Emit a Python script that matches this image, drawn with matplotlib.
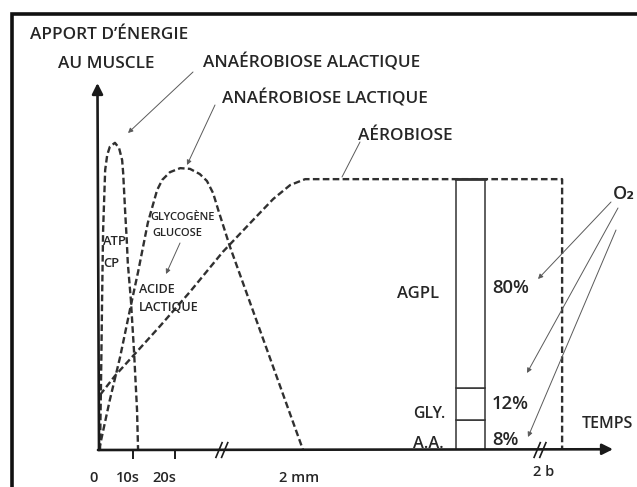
import matplotlib
matplotlib.use('Agg')
import matplotlib.pyplot as plt
from matplotlib.patches import Rectangle

W, H = 637, 487
INK = '#262626'
LEAD = '#5a5a5a'

# time axis: 0..100 (schematic, with breaks), energy axis: 0..100
alactic_x = [0.2, 0.4, 0.6, 0.8, 1.2, 1.6, 2.1, 3.1, 3.9, 4.5, 4.7, 5.1, 5.4, 5.6, 6.2, 6.8, 7.4, 7.6]
alactic_y = [0, 19.1, 40.9, 59.9, 76.3, 80.4, 82.6, 83.7, 82.3, 79.0, 75.5, 64.6, 57.2, 51.0, 40.9, 27.2, 10.9, 0]

lactic_x = [0, 2.1, 4.1, 6.0, 7.6, 9.5, 11.3, 12.3, 13.8, 15.8, 17.7, 19.6, 21.0, 22.2, 23.2, 25.5, 39.7]
lactic_y = [0, 13.6, 25.3, 38.1, 48.5, 61.9, 70.8, 73.6, 75.7, 76.8, 76.6, 75.2, 73.3, 70.0, 65.4, 55.3, 0]

aerobic_x = [0.2, 3.1, 6.6, 11.9, 17.7, 24.1, 30.0, 33.9, 37.2, 40.1, 90.1, 90.1]
aerobic_y = [15.0, 20.2, 25.6, 33.8, 43.1, 54.0, 62.7, 68.4, 72.2, 73.8, 73.8, 0]

# substrate column at 2 h
bar_x = 72.3
bar_width = 5.6
bar_names = ['A.A.', 'GLY.', 'AGPL']
bar_shares = ['8%', '12%', '80%']
bar_bottoms = [0, 8.2, 16.9]
bar_heights = [8.2, 8.7, 56.9]

tick_pos = [6.6, 14.8]
time_labels = ['0', '10s', '20s', '2 mm', '2 b']
time_label_pos = [-1.0, 5.6, 12.8, 38.9, 86.6]
break_pos = [23.9, 85.8]


def P(x, y):
    """pixel position in the picture -> figure fraction"""
    return x / W, 1 - y / H


plt.rcParams['font.family'] = ['Open Sans', 'DejaVu Sans']
plt.rcParams['font.weight'] = 'semibold'

fig = plt.figure(figsize=(W / 100, H / 100), dpi=100)
fig.patch.set_facecolor('white')
ax = fig.add_axes([99 / W, 37 / H, 514 / W, 367 / H])
ax.set_xlim(0, 100)
ax.set_ylim(0, 100)
ax.axis('off')

# frame
fig.add_artist(Rectangle(P(12, 500), 640 / W, 486 / H, transform=fig.transFigure,
                         fill=False, edgecolor='#111111', linewidth=2.6))

dash = dict(color='#303030', linewidth=1.7, dashes=(2.8, 1.4), solid_capstyle='butt')
ax.plot(alactic_x, alactic_y, clip_on=False, **dash)
ax.plot(lactic_x, lactic_y, clip_on=False, **dash)
ax.plot(aerobic_x, aerobic_y, clip_on=False, **dash)

ax.bar(bar_x, bar_heights, bar_width, bottom=bar_bottoms, facecolor='white',
       edgecolor='#333333', linewidth=1.1, zorder=3)
top = bar_bottoms[-1] + bar_heights[-1]
ax.plot([bar_x - bar_width / 2, bar_x + bar_width / 2], [top, top], color='#333333',
        linewidth=2.0, zorder=4)

# axes with arrows
axis_style = dict(arrowstyle='-|>', color='#1a1a1a', lw=1.9, mutation_scale=16,
                  shrinkA=0, shrinkB=0)
ax.annotate('', xy=(-0.3, 100), xytext=(0, 0), arrowprops=axis_style, annotation_clip=False)
ax.annotate('', xy=(100, 0.2), xytext=(-0.2, 0), arrowprops=axis_style, annotation_clip=False)
ax.vlines(tick_pos, -2.4, 0, color='#1a1a1a', linewidth=1.4, clip_on=False)
for b in break_pos:
    for d in (-0.55, 0.55):
        ax.plot([b + d - 0.6, b + d + 0.6], [-2.0, 2.0], color='#1a1a1a', linewidth=1.2,
                clip_on=False)

for pos, lab in zip(time_label_pos, time_labels):
    yb = -7.2 if lab == '2 b' else -8.6
    ax.text(pos, yb, lab, ha='center', va='baseline', fontsize=10.5, color=INK)

# titles and labels (pixel positions of the baselines)
texts = [
    (30, 39, "APPORT D’ÉNERGIE", 12.3, 'left'),
    (58, 68, 'AU MUSCLE', 12.3, 'left'),
    (203, 68, 'ANAÉROBIOSE ALACTIQUE', 12.3, 'left'),
    (222, 103, 'ANAÉROBIOSE LACTIQUE', 12.3, 'left'),
    (358, 140, 'AÉROBIOSE', 12.3, 'left'),
    (150, 220, 'GLYCOGÈNE', 8.0, 'left'),
    (152, 236, 'GLUCOSE', 8.0, 'left'),
    (103, 245, 'ATP', 9.3, 'left'),
    (103, 267, 'CP', 9.3, 'left'),
    (139, 293, 'ACIDE', 9.0, 'left'),
    (139, 311, 'LACTIQUE', 9.0, 'left'),
    (397, 298, bar_names[2], 12.0, 'left'),
    (413, 418, bar_names[1], 11.3, 'left'),
    (413, 448, bar_names[0], 11.8, 'left'),
    (492, 293, bar_shares[2], 13.3, 'left'),
    (492, 409, bar_shares[1], 13.3, 'left'),
    (492, 445, bar_shares[0], 13.3, 'left'),
    (582, 428, 'TEMPS', 11.5, 'left'),
    (613, 199, 'O₂', 13, 'left'),
]
for x, y, s, size, ha in texts:
    fig.text(*P(x, y), s, ha=ha, va='baseline', fontsize=size, color=INK)

# leader lines
leaders = [
    ((193, 72), (128, 133), '-|>'),
    ((215, 105), (187, 165), '-|>'),
    ((360, 142), (342, 177), '-'),
    ((180, 243), (166, 274), '-|>'),
    ((611, 202), (538, 279), '-|>'),
    ((618, 208), (527, 373), '-|>'),
    ((616, 230), (528, 437), '-|>'),
]
for start, end, style in leaders:
    ax.annotate('', xy=P(*end), xycoords='figure fraction', xytext=P(*start),
                textcoords='figure fraction', annotation_clip=False,
                arrowprops=dict(arrowstyle=style, color=LEAD, lw=0.7, mutation_scale=7,
                                shrinkA=0, shrinkB=0))

fig.savefig('out.png', dpi=100)
